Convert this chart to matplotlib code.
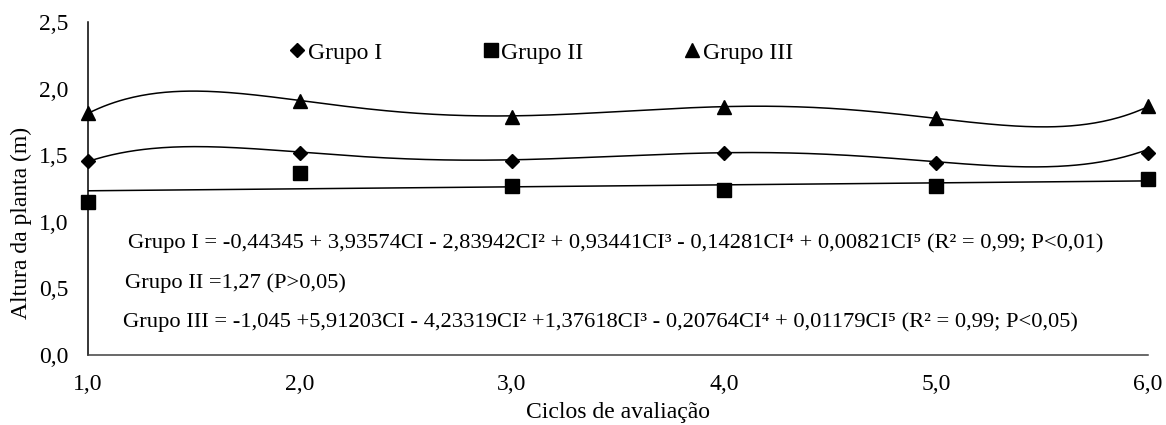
import numpy as np
import matplotlib
matplotlib.use("Agg")
import matplotlib.pyplot as plt

plt.rcParams['font.family'] = ['Liberation Serif', 'DejaVu Serif']
plt.rcParams['font.size'] = 17

# Evaluation cycles and mean plant heights (m)
ciclos = [1, 2, 3, 4, 5, 6]
grupo_i = [1.46, 1.52, 1.46, 1.52, 1.44, 1.52]
grupo_ii = [1.15, 1.37, 1.27, 1.24, 1.27, 1.32]
grupo_iii = [1.82, 1.91, 1.79, 1.86, 1.78, 1.87]

# Fitted polynomial coefficients (constant term first)
coef_i = [-0.44345, 3.93574, -2.83942, 0.93441, -0.14281, 0.00821]
coef_iii = [-1.045, 5.91203, -4.23319, 1.37618, -0.20764, 0.01179]

x_ticks = [1, 2, 3, 4, 5, 6]
x_ticklabels = ['1,0', '2,0', '3,0', '4,0', '5,0', '6,0']
y_ticks = [0.0, 0.5, 1.0, 1.5, 2.0, 2.5]
y_ticklabels = ['0,0', '0,5', '1,0', '1,5', '2,0', '2,5']

eq_i = ('Grupo I = -0,44345 + 3,93574CI - 2,83942CI² + 0,93441CI³ - 0,14281CI⁴ '
        '+ 0,00821CI⁵ (R² = 0,99; P<0,01)')
eq_ii = 'Grupo II =1,27 (P>0,05)'
eq_iii = ('Grupo III = -1,045 +5,91203CI - 4,23319CI² +1,37618CI³ - 0,20764CI⁴ '
          '+ 0,01179CI⁵ (R² = 0,99; P<0,05)')

fig = plt.figure(figsize=(11.66, 4.25), dpi=100)
ax = fig.add_axes([0.0755, 0.1647, 0.9091, 0.7835])

xs = np.linspace(1, 6, 400)
ax.plot(xs, np.polynomial.polynomial.polyval(xs, coef_i), color='black', lw=1.1)
ax.plot(xs, np.polynomial.polynomial.polyval(xs, coef_iii), color='black', lw=1.1)
lin = np.polyfit(ciclos, grupo_ii, 1)
ax.plot(xs, np.polyval(lin, xs), color='black', lw=1.1)

ax.plot(ciclos, grupo_i, 'D', color='black', ms=7.6, ls='none', label='Grupo I', clip_on=False)
ax.plot(ciclos, grupo_ii, 's', color='black', ms=10, ls='none', label='Grupo II', clip_on=False)
ax.plot(ciclos, grupo_iii, '^', color='black', ms=10.5, ls='none', label='Grupo III', clip_on=False)

ax.set_xlim(1, 6)
ax.set_ylim(0, 2.5)
ax.set_xticks(x_ticks)
ax.set_xticklabels(x_ticklabels)
ax.set_yticks(y_ticks)
ax.set_yticklabels(y_ticklabels)
ax.tick_params(axis='both', length=0, labelsize=17)
ax.tick_params(axis='y', pad=14)
ax.tick_params(axis='x', pad=14)

for s in ('top', 'right'):
    ax.spines[s].set_visible(False)
ax.spines['left'].set_color('black')
ax.spines['bottom'].set_color('#404040')
ax.spines['left'].set_linewidth(1.1)
ax.spines['bottom'].set_linewidth(1.1)

ax.set_ylabel('Altura da planta (m)', fontsize=17)
ax.yaxis.set_label_coords(-0.053, 0.396)
ax.set_xlabel('Ciclos de avaliação', fontsize=17, va='top')
ax.xaxis.set_label_coords(0.5, -0.142)

ax.legend(loc='center', bbox_to_anchor=(0.428, 0.907), ncol=3, frameon=False,
          handlelength=0.6, handletextpad=0.15, columnspacing=4.3, fontsize=17)

ax.text(0.038, 0.337, eq_i, transform=ax.transAxes, fontsize=16.2, va='center', ha='left')
ax.text(0.035, 0.217, eq_ii, transform=ax.transAxes, fontsize=16.2, va='center', ha='left')
ax.text(0.033, 0.100, eq_iii, transform=ax.transAxes, fontsize=16.2, va='center', ha='left')

fig.savefig('out.png', dpi=100)
